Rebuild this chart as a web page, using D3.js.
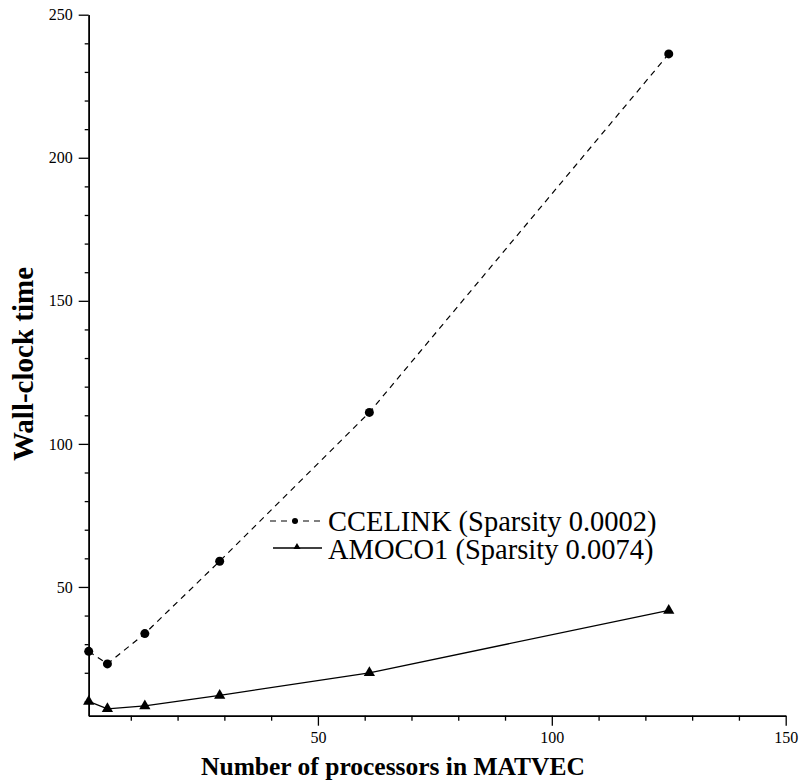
<!DOCTYPE html>
<html>
<head>
<meta charset="utf-8">
<script src="https://cdn.jsdelivr.net/npm/d3@7"></script>
<style>
  html, body { margin: 0; padding: 0; background: #fff; }
</style>
</head>
<body>
<div id="chart"></div>
<script>
// Data
var processors = [1, 5, 13, 29, 61, 125];
var ccelinkTimes = [27.5, 23.1, 33.7, 59, 111, 236.3];
var amoco1Times = [10, 7.4, 8.4, 12.1, 20, 41.8];
var seriesNames = ['CCELINK (Sparsity 0.0002)', 'AMOCO1 (Sparsity 0.0074)'];
var xMajorTicks = [50, 100, 150];
var yMajorTicks = [50, 100, 150, 200, 250];

var SERIF = "'Liberation Serif', 'Times New Roman', Times, 'DejaVu Serif', serif";

var width = 801, height = 783;
var margin = { top: 14.7, right: 15.3, bottom: 67.3, left: 88.7 };
var plotWidth = width - margin.left - margin.right;
var plotHeight = height - margin.top - margin.bottom;

var svg = d3.select('#chart').append('svg')
    .attr('width', width)
    .attr('height', height)
    .style('font-family', SERIF);

var g = svg.append('g')
    .attr('transform', 'translate(' + margin.left + ',' + margin.top + ')');

var xScale = d3.scaleLinear().domain([1, 150]).range([0, plotWidth]);
var yScale = d3.scaleLinear().domain([5, 250]).range([plotHeight, 0]);

var xMinor = d3.range(10, 150, 10).filter(function(d) { return xMajorTicks.indexOf(d) < 0; });
var yMinor = d3.range(10, 250, 10).filter(function(d) { return yMajorTicks.indexOf(d) < 0; });

function styleAxis(sel) {
    sel.attr('font-family', null);
    sel.select('.domain').attr('stroke', '#000').attr('stroke-width', 1.5);
    sel.selectAll('.tick line').attr('stroke', '#000').attr('stroke-width', 1.3);
    sel.selectAll('.tick text')
        .style('font-family', SERIF)
        .style('font-size', '16px')
        .attr('fill', '#000');
}

// Minor ticks
g.append('g')
    .attr('transform', 'translate(0,' + plotHeight + ')')
    .call(d3.axisBottom(xScale).tickValues(xMinor).tickSize(5).tickFormat('').tickSizeOuter(0))
    .call(styleAxis);
g.append('g')
    .call(d3.axisLeft(yScale).tickValues(yMinor).tickSize(4).tickFormat('').tickSizeOuter(0))
    .call(styleAxis);

// Major ticks
g.append('g')
    .attr('transform', 'translate(0,' + plotHeight + ')')
    .call(d3.axisBottom(xScale).tickValues(xMajorTicks).tickSize(10).tickPadding(6).tickSizeOuter(0))
    .call(styleAxis);
g.append('g')
    .call(d3.axisLeft(yScale).tickValues(yMajorTicks).tickSize(10).tickPadding(6).tickSizeOuter(0))
    .call(styleAxis);

// Axis titles
svg.append('text')
    .attr('x', 393)
    .attr('y', 775)
    .attr('text-anchor', 'middle')
    .style('font-family', SERIF)
    .style('font-size', '25.5px')
    .style('font-weight', 'bold')
    .text('Number of processors in MATVEC');

svg.append('text')
    .attr('transform', 'translate(33,364) rotate(-90)')
    .attr('text-anchor', 'middle')
    .style('font-family', SERIF)
    .style('font-size', '29px')
    .style('font-weight', 'bold')
    .text('Wall-clock time');

var line = d3.line()
    .x(function(d) { return xScale(d[0]); })
    .y(function(d) { return yScale(d[1]); });

var ccelinkPts = processors.map(function(p, i) { return [p, ccelinkTimes[i]]; });
var amocoPts = processors.map(function(p, i) { return [p, amoco1Times[i]]; });

var triangle = d3.symbol().type(d3.symbolTriangle);

// CCELINK: dashed with circles
g.append('path')
    .datum(ccelinkPts)
    .attr('d', line)
    .attr('fill', 'none')
    .attr('stroke', '#000')
    .attr('stroke-width', 1.2)
    .attr('stroke-dasharray', '6,5');

g.selectAll('.cc-pt')
    .data(ccelinkPts)
    .enter()
    .append('circle')
    .attr('class', 'cc-pt')
    .attr('cx', function(d) { return xScale(d[0]); })
    .attr('cy', function(d) { return yScale(d[1]); })
    .attr('r', 4.5)
    .attr('fill', '#000');

// AMOCO1: solid with triangles
g.append('path')
    .datum(amocoPts)
    .attr('d', line)
    .attr('fill', 'none')
    .attr('stroke', '#000')
    .attr('stroke-width', 1.3);

g.selectAll('.am-pt')
    .data(amocoPts)
    .enter()
    .append('path')
    .attr('class', 'am-pt')
    .attr('transform', function(d) {
        return 'translate(' + xScale(d[0]) + ',' + yScale(d[1]) + ')';
    })
    .attr('d', triangle.size(55))
    .attr('fill', '#000');

// Legend
var legend = svg.append('g').attr('transform', 'translate(270,0)');

legend.append('line')
    .attr('x1', 0).attr('x2', 52)
    .attr('y1', 521).attr('y2', 521)
    .attr('stroke', '#000')
    .attr('stroke-width', 1.2)
    .attr('stroke-dasharray', '6,5');
legend.append('circle')
    .attr('cx', 25).attr('cy', 521).attr('r', 3)
    .attr('fill', '#000');
legend.append('text')
    .attr('x', 58).attr('y', 531)
    .style('font-family', SERIF)
    .style('font-size', '28.5px')
    .text(seriesNames[0]);

legend.append('line')
    .attr('x1', 3).attr('x2', 52)
    .attr('y1', 548).attr('y2', 548)
    .attr('stroke', '#000')
    .attr('stroke-width', 1.3);
legend.append('path')
    .attr('transform', 'translate(27,547)')
    .attr('d', d3.symbol().type(d3.symbolTriangle).size(22))
    .attr('fill', '#000');
legend.append('text')
    .attr('x', 58).attr('y', 559)
    .style('font-family', SERIF)
    .style('font-size', '28.5px')
    .text(seriesNames[1]);
</script>
</body>
</html>
